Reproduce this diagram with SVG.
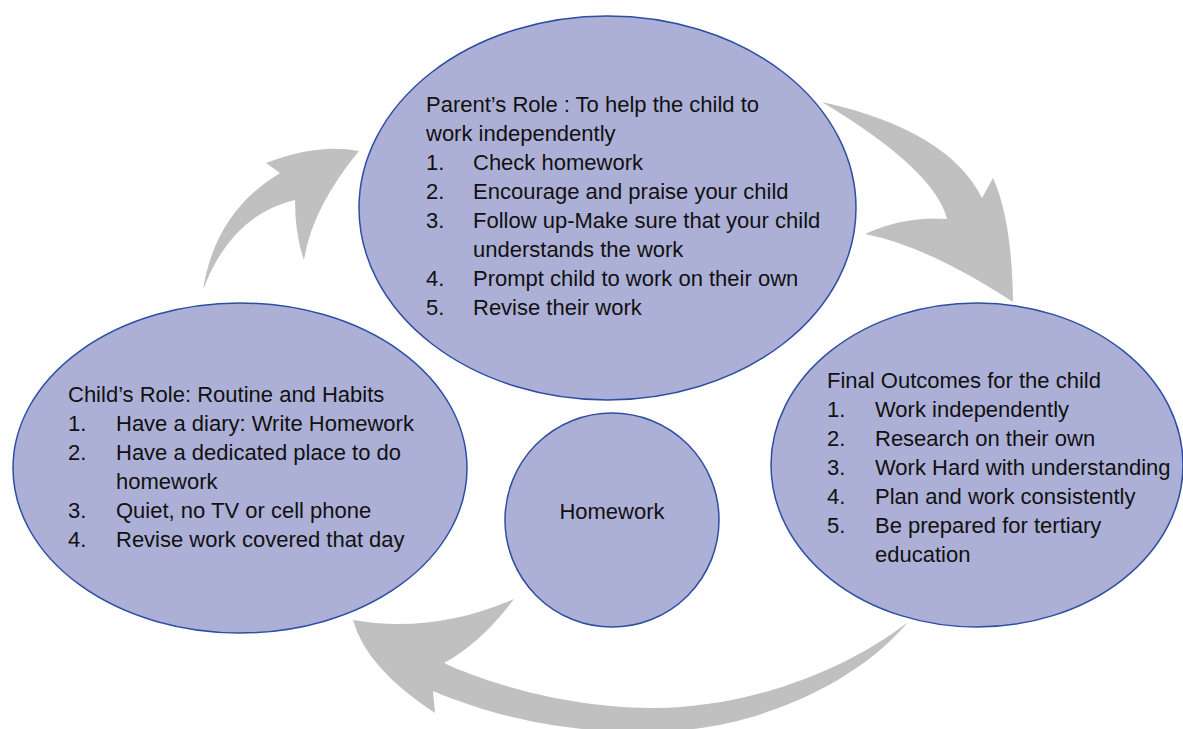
<svg xmlns="http://www.w3.org/2000/svg" width="1183" height="729" viewBox="0 0 1183 729">
  <style>
    .arrow { fill: #C0C0C0; stroke: none; }
    .bubble { fill: #ADB0D6; stroke: #2D4EA2; stroke-width: 1.5; }
    .label { font-family: "Liberation Sans", Arial, sans-serif; font-size: 22px; fill: #111111; }
  </style>

  <!-- curved cycle arrows, drawn beneath the bubbles -->
  <g id="connectors">
    <!-- child's role -> parent's role -->
    <path class="arrow" d="M203,290 Q215,212 280,173 L266,163 Q318,143 359,151 Q312,208 304,260 Q295,235 295,200 Q231,215 203,290 Z"/>
    <!-- parent's role -> final outcomes -->
    <path class="arrow" d="M822,102 Q948,130 982,198 L993,178 Q1012,220 1013,302 Q927,246 865,234 Q905,216 947,219 Q935,170 822,102 Z"/>
    <!-- final outcomes -> child's role -->
    <path class="arrow" d="M908,622 C860,680 760,731 650,732 C560,733 490,715 433,691 L435,713 Q366,668 353,620 Q433,634 514,599 Q481,643 444,663 C480,680 560,707 650,708 C740,709 840,675 908,622 Z"/>
  </g>

  <g id="node-parent">
    <ellipse class="bubble" cx="607.5" cy="208" rx="248.5" ry="192"/>
    <text class="label">
      <tspan x="426" y="111.5">Parent’s Role : To help the child to</tspan>
      <tspan x="426" y="140.5">work independently</tspan>
      <tspan x="426" y="169.5">1.</tspan><tspan x="473" y="169.5">Check homework</tspan>
      <tspan x="426" y="198.5">2.</tspan><tspan x="473" y="198.5">Encourage and praise your child</tspan>
      <tspan x="426" y="227.5">3.</tspan><tspan x="473" y="227.5">Follow up-Make sure that your child</tspan>
      <tspan x="473" y="256.5">understands the work</tspan>
      <tspan x="426" y="285.5">4.</tspan><tspan x="473" y="285.5">Prompt child to work on their own</tspan>
      <tspan x="426" y="314.5">5.</tspan><tspan x="473" y="314.5">Revise their work</tspan>
    </text>
  </g>

  <g id="node-child">
    <ellipse class="bubble" cx="240" cy="468" rx="227" ry="165"/>
    <text class="label">
      <tspan x="68" y="402">Child’s Role: Routine and Habits</tspan>
      <tspan x="68" y="431">1.</tspan><tspan x="116" y="431">Have a diary: Write Homework</tspan>
      <tspan x="68" y="460">2.</tspan><tspan x="116" y="460">Have a dedicated place to do</tspan>
      <tspan x="116" y="489">homework</tspan>
      <tspan x="68" y="518">3.</tspan><tspan x="116" y="518">Quiet, no TV or cell phone</tspan>
      <tspan x="68" y="547">4.</tspan><tspan x="116" y="547">Revise work covered that day</tspan>
    </text>
  </g>

  <g id="node-outcomes">
    <ellipse class="bubble" cx="977" cy="465" rx="206" ry="162"/>
    <text class="label">
      <tspan x="827" y="388">Final Outcomes for the child</tspan>
      <tspan x="827" y="417">1.</tspan><tspan x="875" y="417">Work independently</tspan>
      <tspan x="827" y="446">2.</tspan><tspan x="875" y="446">Research on their own</tspan>
      <tspan x="827" y="475">3.</tspan><tspan x="875" y="475">Work Hard with understanding</tspan>
      <tspan x="827" y="504">4.</tspan><tspan x="875" y="504">Plan and work consistently</tspan>
      <tspan x="827" y="533">5.</tspan><tspan x="875" y="533">Be prepared for tertiary</tspan>
      <tspan x="875" y="562">education</tspan>
    </text>
  </g>

  <g id="node-homework">
    <circle class="bubble" cx="612" cy="520" r="107"/>
    <text class="label" x="612" y="519" text-anchor="middle">Homework</text>
  </g>
</svg>
